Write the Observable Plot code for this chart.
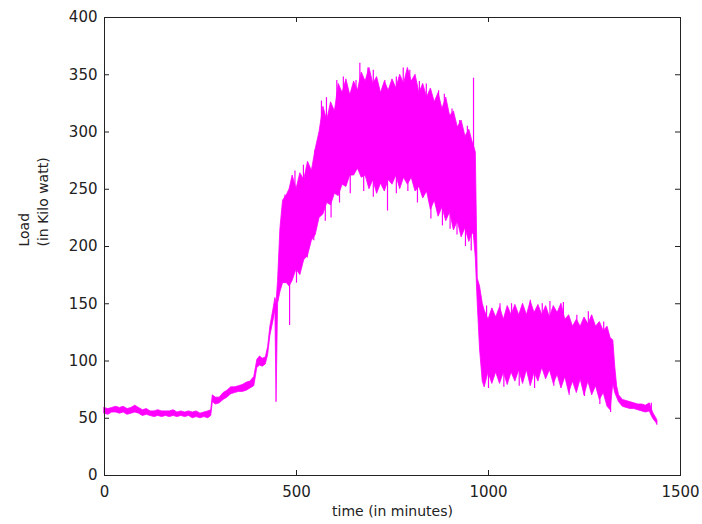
<!DOCTYPE html>
<html>
<head>
<meta charset="utf-8">
<script src="https://cdn.jsdelivr.net/npm/d3@7"></script>
<script src="https://cdn.jsdelivr.net/npm/@observablehq/plot@0.6"></script>
<style>
  html, body { margin: 0; padding: 0; background: #fff; }
</style>
</head>
<body>
<div id="chart"></div>
<script>
// Time (minutes) and lower / upper envelope of the load signal (kW)
const minutes = [0,10,20,30,40,50,60,70,80,90,100,110,120,130,140,150,160,170,180,190,200,210,220,230,240,250,260,270,278,
  282,290,300,310,320,330,340,350,360,370,380,390,398,405,412,420,426,432,440,445,448,452,458,465,475,482,490,
  500,510,520,530,540,550,560,570,580,590,600,610,620,630,640,650,660,670,680,690,700,710,720,730,740,750,
  760,770,780,790,800,810,820,830,840,850,860,870,880,890,900,910,920,930,940,950,958,962,967,972,978,985,
  990,1000,1010,1020,1030,1040,1050,1060,1070,1080,1090,1100,1110,1120,1130,1140,1150,1160,1170,1180,1190,
  1200,1210,1220,1230,1240,1250,1260,1270,1280,1290,1300,1310,1318,1325,1330,1335,1340,1350,1360,1370,1380,
  1390,1400,1410,1420,1425,1430,1437,1440];
const loadLow = [54,53,55,55,54,55,53,54,55,54,52,53,52,51,52,51,52,51,52,51,52,51,52,50,51,50,51,50,52,
  64,62,63,66,68,71,72,73,73,74,76,78,94,96,95,97,105,122,135,145,64,150,160,168,168,165,170,
  180,175,188,192,205,210,225,228,238,236,246,244,254,252,262,262,268,260,262,250,258,246,255,248,258,254,
  262,250,260,254,260,248,252,242,248,232,240,226,234,222,230,214,222,208,216,204,212,210,190,150,110,82,
  77,90,80,90,80,90,79,90,82,92,80,92,78,90,82,94,84,92,80,88,76,
  86,72,82,72,84,70,82,70,78,66,72,60,57,80,72,68,64,60,59,58,58,
  57,56,55,56,52,49,46,44];
const loadHigh = [59,58,59,60,59,60,58,59,61,59,57,58,56,56,57,56,56,56,57,55,56,55,56,55,56,54,55,56,57,
  70,68,68,72,74,77,77,78,79,81,82,86,101,104,102,103,112,130,145,155,150,170,215,240,245,250,262,
  250,264,258,274,266,285,300,322,310,326,318,342,334,346,332,344,336,352,344,356,342,348,334,344,336,346,
  338,350,342,356,344,350,334,342,330,338,326,334,320,330,314,318,304,310,296,302,292,288,282,172,165,150,
  144,136,146,138,147,136,148,140,149,140,150,140,152,142,149,140,148,138,148,142,150,
  136,140,130,136,130,138,132,140,130,134,126,130,120,118,95,78,70,66,65,64,63,
  62,62,61,63,58,54,50,48];

// Isolated spikes of the signal (minute, from, to)
const spikeT = [470,496,518,548,565,578,605,622,655,665,686,700,730,760,778,795,820,838,870,885,905,925,945,961,
  482,500,528,545,575,590,612,640,675,700,737,760,790,815,850,880,900,918,940,955,
  995,1030,1060,1109,1140,1160,1195,1230,1260,1300,
  1000,1040,1080,1120,1170,1210,1250,1290,1318,1424];
const spikeFrom = [200,230,240,250,280,290,300,310,300,300,320,320,310,320,320,320,310,310,300,300,280,270,260,210,
  200,200,230,240,260,260,280,290,290,290,290,290,290,280,270,260,260,250,240,230,
  120,120,120,120,120,120,120,110,110,100,
  100,100,100,100,100,95,95,90,90,56];
const spikeTo = [245,266,271,284,327,330,345,348,345,360,356,354,345,348,356,354,344,342,336,333,320,310,305,347,
  131,168,190,205,222,225,238,246,248,243,231,246,248,238,224,218,215,210,200,196,
  148,150,150,153,150,152,151,140,143,134,
  76,77,78,76,78,70,69,62,55,63];

const xTicks = [0, 500, 1000, 1500];
const yTicks = [0, 50, 100, 150, 200, 250, 300, 350, 400];
const xLabel = "time (in minutes)";
const yLabel = "Load\n(in Kilo watt)";

const band = minutes.map((t, i) => ({t, lo: loadLow[i], hi: loadHigh[i]}));
const spikes = spikeT.map((t, i) => ({t, from: spikeFrom[i], to: spikeTo[i]}));

const W = 702, H = 524, ML = 104, MR = 22, MT = 17, MB = 49;
const innerW = W - ML - MR, innerH = H - MT - MB, tick = 5;
const magenta = "#ff00ff";

const chart = Plot.plot({
  width: W, height: H,
  marginLeft: ML, marginRight: MR, marginTop: MT, marginBottom: MB,
  x: {domain: [0, 1500]},
  y: {domain: [0, 400]},
  style: {fontFamily: "DejaVu Sans", fontSize: "15px", color: "#222", background: "#fff"},
  marks: [
    Plot.areaY(band, {x: "t", y1: "lo", y2: "hi", fill: magenta, stroke: magenta, strokeWidth: 0.8}),
    Plot.ruleX(spikes, {x: "t", y1: "from", y2: "to", stroke: magenta, strokeWidth: 1.2}),
    Plot.frame({stroke: "#222", strokeWidth: 1}),
    Plot.tickX(xTicks, {x: d => d, insetTop: innerH - tick, stroke: "#222"}),
    Plot.tickX(xTicks, {x: d => d, insetBottom: innerH - tick, stroke: "#222"}),
    Plot.tickY(yTicks, {y: d => d, insetRight: innerW - tick, stroke: "#222"}),
    Plot.tickY(yTicks, {y: d => d, insetLeft: innerW - tick, stroke: "#222"}),
    Plot.axisX(xTicks, {tickSize: 0, tickPadding: 11, label: null, tickFormat: d3.format("d")}),
    Plot.axisY(yTicks, {tickSize: 0, tickPadding: 7, label: null, tickFormat: d3.format("d")}),
    Plot.text([xLabel], {text: d => d, frameAnchor: "bottom", dy: 40, fontSize: 14, fill: "#222"}),
    Plot.text([yLabel], {text: d => d, frameAnchor: "left", dx: -72, rotate: -90, fontSize: 14, lineHeight: 1.35, fill: "#222"})
  ]
});
document.getElementById("chart").appendChild(chart);
</script>
</body>
</html>
